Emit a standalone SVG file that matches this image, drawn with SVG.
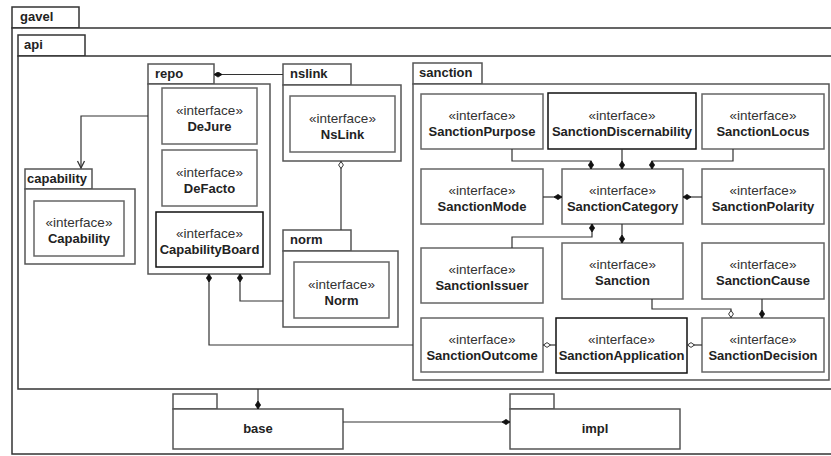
<svg xmlns="http://www.w3.org/2000/svg" width="831" height="456" viewBox="0 0 831 456">
<style>
.pk{fill:#fff;stroke:#555;stroke-width:1.5}
.po{fill:#fff;stroke:#333;stroke-width:1.5}
.bx{fill:#fff;stroke:#666;stroke-width:1.5}
.bk{fill:#fff;stroke:#111;stroke-width:1.5}
.pl{font-family:"Liberation Sans",Arial,sans-serif;font-size:13px;font-weight:bold;fill:#222}
.st{font-family:"Liberation Sans",Arial,sans-serif;font-size:13.5px;fill:#333;text-anchor:middle}
.nm{font-family:"Liberation Sans",Arial,sans-serif;font-size:13px;font-weight:bold;fill:#222;text-anchor:middle}
.cn{fill:none;stroke:#333;stroke-width:1.2}
</style>
<defs>
<marker id="fd" viewBox="0 -3 9 6" refX="0" refY="0" markerWidth="9" markerHeight="6" markerUnits="userSpaceOnUse" orient="auto"><path d="M0,0 L4,-2.6 L8,0 L4,2.6 z" fill="#111" stroke="#111" stroke-width="0.8"/></marker>
<marker id="hd" viewBox="0 -3 9 6" refX="0" refY="0" markerWidth="9" markerHeight="6" markerUnits="userSpaceOnUse" orient="auto"><path d="M0.5,0 L4,-2.4 L7.5,0 L4,2.4 z" fill="#fff" stroke="#333" stroke-width="1"/></marker>
<marker id="oa" viewBox="-1 -5 10 10" refX="8" refY="0" markerWidth="10" markerHeight="10" markerUnits="userSpaceOnUse" orient="auto"><path d="M1,-3.5 L8,0 L1,3.5" fill="none" stroke="#333" stroke-width="1.3"/></marker>
</defs>

<g id="gavel">
<rect class="po" x="12" y="7" width="67" height="21"/>
<rect class="po" x="12" y="28" width="830" height="426"/>
<text class="pl" x="20" y="21">gavel</text>
</g>
<g id="api">
<rect class="po" x="18" y="35" width="67" height="21"/>
<rect class="po" x="18" y="56" width="830" height="333"/>
<text class="pl" x="24" y="49">api</text>
</g>

<g id="repo">
<rect class="pk" x="148" y="64" width="66" height="20"/>
<rect class="pk" x="148" y="84" width="122" height="190"/>
<text class="pl" x="155" y="78">repo</text>
</g>
<g id="DeJure"><rect class="bx" x="162" y="88" width="95" height="56"/><text class="st" x="209.5" y="115">«interface»</text><text class="nm" x="209.5" y="131">DeJure</text></g>
<g id="DeFacto"><rect class="bx" x="162" y="150" width="95" height="56"/><text class="st" x="209.5" y="177">«interface»</text><text class="nm" x="209.5" y="193">DeFacto</text></g>
<g id="CapabilityBoard"><rect class="bk" x="156" y="212" width="107" height="55"/><text class="st" x="209.5" y="238">«interface»</text><text class="nm" x="209.5" y="254">CapabilityBoard</text></g>

<g id="capability">
<rect class="pk" x="25" y="169" width="67" height="20"/>
<rect class="pk" x="25" y="189" width="110" height="75"/>
<text class="pl" x="27" y="183">capability</text>
</g>
<g id="Capability"><rect class="bx" x="34" y="201" width="90" height="55"/><text class="st" x="79" y="227">«interface»</text><text class="nm" x="79" y="243">Capability</text></g>

<g id="nslink">
<rect class="pk" x="283" y="64" width="68" height="21"/>
<rect class="pk" x="283" y="85" width="118" height="76"/>
<text class="pl" x="290" y="78">nslink</text>
</g>
<g id="NsLink"><rect class="bx" x="290" y="96" width="105" height="56"/><text class="st" x="342.5" y="123">«interface»</text><text class="nm" x="342.5" y="139">NsLink</text></g>

<g id="norm">
<rect class="pk" x="283" y="230" width="68" height="21"/>
<rect class="pk" x="283" y="251" width="115" height="76"/>
<text class="pl" x="290" y="244">norm</text>
</g>
<g id="Norm"><rect class="bx" x="294" y="262" width="95" height="56"/><text class="st" x="341.5" y="289">«interface»</text><text class="nm" x="341.5" y="305">Norm</text></g>

<g id="sanction">
<rect class="pk" x="413" y="63" width="69" height="21"/>
<rect class="pk" x="413" y="84" width="416" height="296"/>
<text class="pl" x="419" y="77">sanction</text>
</g>
<g id="SanctionPurpose"><rect class="bx" x="421" y="94" width="122" height="55"/><text class="st" x="482" y="120">«interface»</text><text class="nm" x="482" y="136">SanctionPurpose</text></g>
<g id="SanctionDiscernability"><rect class="bk" x="548" y="93" width="148" height="56"/><text class="st" x="622" y="120">«interface»</text><text class="nm" x="622" y="136">SanctionDiscernability</text></g>
<g id="SanctionLocus"><rect class="bx" x="702" y="94" width="122" height="55"/><text class="st" x="763" y="120">«interface»</text><text class="nm" x="763" y="136">SanctionLocus</text></g>
<g id="SanctionMode"><rect class="bx" x="421" y="169" width="122" height="55"/><text class="st" x="482" y="195">«interface»</text><text class="nm" x="482" y="211">SanctionMode</text></g>
<g id="SanctionCategory"><rect class="bx" x="562" y="169" width="121" height="55"/><text class="st" x="622.5" y="195">«interface»</text><text class="nm" x="622.5" y="211">SanctionCategory</text></g>
<g id="SanctionPolarity"><rect class="bx" x="702" y="169" width="122" height="55"/><text class="st" x="763" y="195">«interface»</text><text class="nm" x="763" y="211">SanctionPolarity</text></g>
<g id="SanctionIssuer"><rect class="bx" x="421" y="248" width="122" height="55"/><text class="st" x="482" y="274">«interface»</text><text class="nm" x="482" y="290">SanctionIssuer</text></g>
<g id="Sanction"><rect class="bx" x="562" y="243" width="121" height="56"/><text class="st" x="622.5" y="269">«interface»</text><text class="nm" x="622.5" y="285">Sanction</text></g>
<g id="SanctionCause"><rect class="bx" x="702" y="243" width="122" height="56"/><text class="st" x="763" y="269">«interface»</text><text class="nm" x="763" y="285">SanctionCause</text></g>
<g id="SanctionOutcome"><rect class="bx" x="421" y="318" width="122" height="54"/><text class="st" x="482" y="344">«interface»</text><text class="nm" x="482" y="360">SanctionOutcome</text></g>
<g id="SanctionApplication"><rect class="bk" x="556" y="318" width="131" height="55"/><text class="st" x="621.5" y="344">«interface»</text><text class="nm" x="621.5" y="360">SanctionApplication</text></g>
<g id="SanctionDecision"><rect class="bx" x="702" y="318" width="122" height="54"/><text class="st" x="763" y="344">«interface»</text><text class="nm" x="763" y="360">SanctionDecision</text></g>

<g id="base">
<rect class="pk" x="173" y="394" width="44" height="15"/>
<rect class="pk" x="173" y="409" width="170" height="40"/>
<text class="pl" x="258" y="433" text-anchor="middle">base</text>
</g>
<g id="impl">
<rect class="pk" x="510" y="394" width="44" height="15"/>
<rect class="pk" x="510" y="409" width="170" height="40"/>
<text class="pl" x="595" y="433" text-anchor="middle">impl</text>
</g>

<g id="connectors">
<path class="cn" d="M214,74.5 H283" marker-start="url(#fd)"/>
<path class="cn" d="M148,116 H81 V168" marker-end="url(#oa)"/>
<path class="cn" d="M341,161 V230" marker-start="url(#hd)"/>
<path class="cn" d="M240,274 V301 H283" marker-start="url(#fd)"/>
<path class="cn" d="M209,274 V345 H413" marker-start="url(#fd)"/>
<path class="cn" d="M591,169 V161 H512 V149" marker-start="url(#fd)"/>
<path class="cn" d="M622,169 V149" marker-start="url(#fd)"/>
<path class="cn" d="M652,169 V161 H733 V149" marker-start="url(#fd)"/>
<path class="cn" d="M562,197 H543" marker-start="url(#fd)"/>
<path class="cn" d="M683,197 H702" marker-start="url(#fd)"/>
<path class="cn" d="M592,224 V237 H512 V248" marker-start="url(#fd)"/>
<path class="cn" d="M622,243 V224" marker-start="url(#fd)"/>
<path class="cn" d="M731,318 V309 H652 V299" marker-start="url(#hd)"/>
<path class="cn" d="M762,318 V299" marker-start="url(#fd)"/>
<path class="cn" d="M543,345 H556" marker-start="url(#hd)"/>
<path class="cn" d="M687,345 H702" marker-start="url(#hd)"/>
<path class="cn" d="M258,409 V389" marker-start="url(#fd)"/>
<path class="cn" d="M510,422 H343" marker-start="url(#fd)"/>
</g>
</svg>
